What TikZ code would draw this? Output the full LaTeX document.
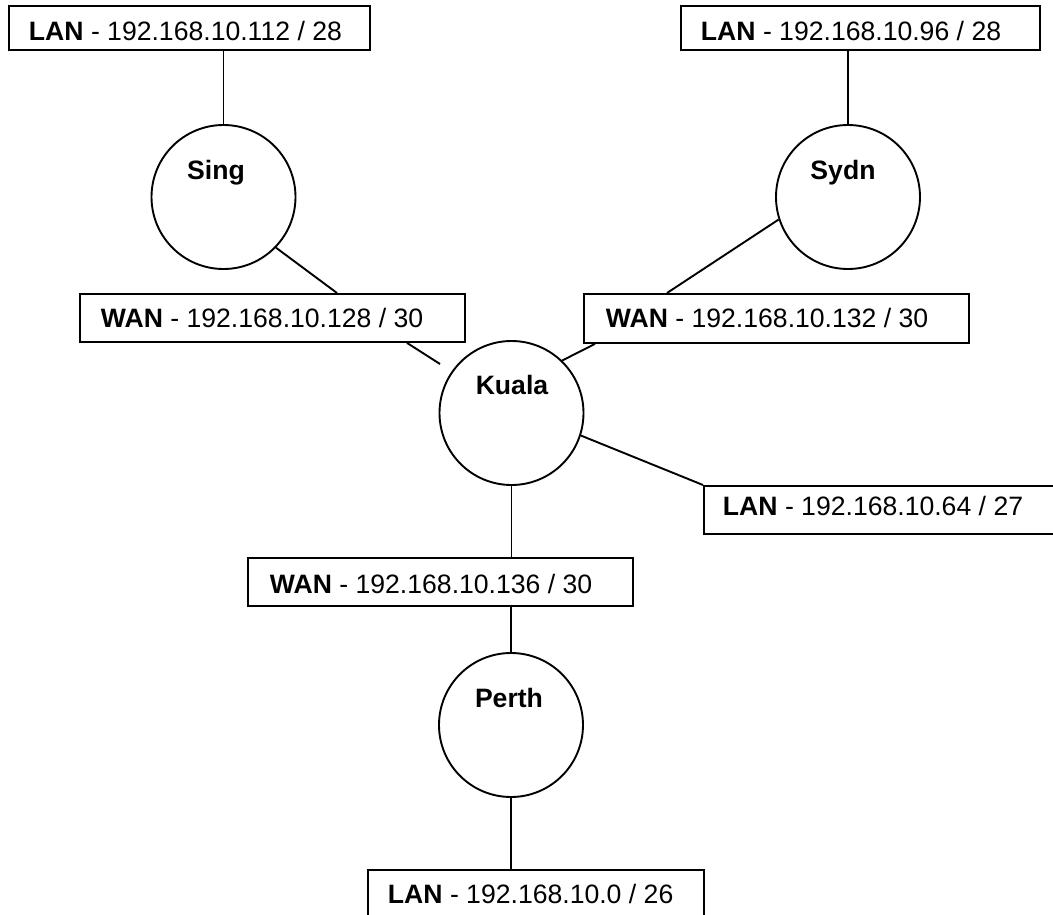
\documentclass[tikz,border=0pt]{standalone}
\usepackage{fontspec}
\setmainfont{Liberation Sans}
\usetikzlibrary{calc}
\begin{document}
\begin{tikzpicture}[x=1pt,y=-1pt,
  line width=1.9pt,
  netbox/.style={draw, rectangle, inner sep=0pt, anchor=north west},
  boxtext/.style={inner sep=0pt, anchor=base west, font=\fontsize{26.6}{32}\selectfont},
  router/.style={draw, circle, inner sep=0pt, minimum size=144pt},
  routername/.style={inner sep=0pt, anchor=base, font=\fontsize{26.6}{32}\selectfont\bfseries},
]
\clip (0,0) rectangle (1053,915);

% subnet boxes
\node[netbox, minimum width=361pt, minimum height=44pt] (lan112) at (8,5) {};
\node[boxtext] (lan112t) at ($(lan112.north west)+(20,36)$) {\textbf{LAN} - 192.168.10.112 / 28};

\node[netbox, minimum width=359pt, minimum height=44pt] (lan96) at (680,5) {};
\node[boxtext] (lan96t) at ($(lan96.north west)+(20,36)$) {\textbf{LAN} - 192.168.10.96 / 28};

\node[netbox, minimum width=385pt, minimum height=48pt] (wan128) at (79,293) {};
\node[boxtext] (wan128t) at ($(wan128.north west)+(21,34)$) {\textbf{WAN} - 192.168.10.128 / 30};

\node[netbox, minimum width=385pt, minimum height=49pt] (wan132) at (583,293) {};
\node[boxtext] (wan132t) at ($(wan132.north west)+(22,34)$) {\textbf{WAN} - 192.168.10.132 / 30};

\node[netbox, minimum width=400pt, minimum height=48pt] (lan64) at (703,485) {};
\node[boxtext] (lan64t) at ($(lan64.north west)+(19,30)$) {\textbf{LAN} - 192.168.10.64 / 27};

\node[netbox, minimum width=385pt, minimum height=48pt] (wan136) at (247,557) {};
\node[boxtext] (wan136t) at ($(wan136.north west)+(22,36)$) {\textbf{WAN} - 192.168.10.136 / 30};

\node[netbox, minimum width=336pt, minimum height=60pt] (lan0) at (367,869) {};
\node[boxtext] (lan0t) at ($(lan0.north west)+(20,34)$) {\textbf{LAN} - 192.168.10.0 / 26};

% routers
\node[router] (sing) at (223.5,197) {};
\node[routername] (singt) at ($(sing)+(-7.5,-17)$) {Sing};

\node[router] (sydn) at (848,197) {};
\node[routername] (sydnt) at ($(sydn)+(-5,-17)$) {Sydn};

\node[router] (kuala) at (511.5,413) {};
\node[routername] (kualat) at ($(kuala)+(0.5,-19)$) {Kuala};

\node[router] (perth) at (511,725) {};
\node[routername] (pertht) at ($(perth)+(-2,-18)$) {Perth};

% links
\draw (sing.north |- lan112.south) -- (sing.north);
\draw (sydn.north |- lan96.south) -- (sydn.north);
\draw (sing.-44) -- ($(wan128.north west)+(258,0)$);
\draw (sydn.198) -- ($(wan132.north west)+(84,0)$);
\draw ($(wan128.south west)+(328,0)$) -- ($(kuala.center)+(-71.5,-49)$);
\draw (kuala.46) -- ($(wan132.south west)+(12,0)$);
\draw (kuala.-18.5) -- (lan64.north west);
\draw (kuala.south) -- (kuala.south |- wan136.north);
\draw (perth.north |- wan136.south) -- (perth.north);
\draw (perth.south) -- (perth.south |- lan0.north);
\end{tikzpicture}
\end{document}
